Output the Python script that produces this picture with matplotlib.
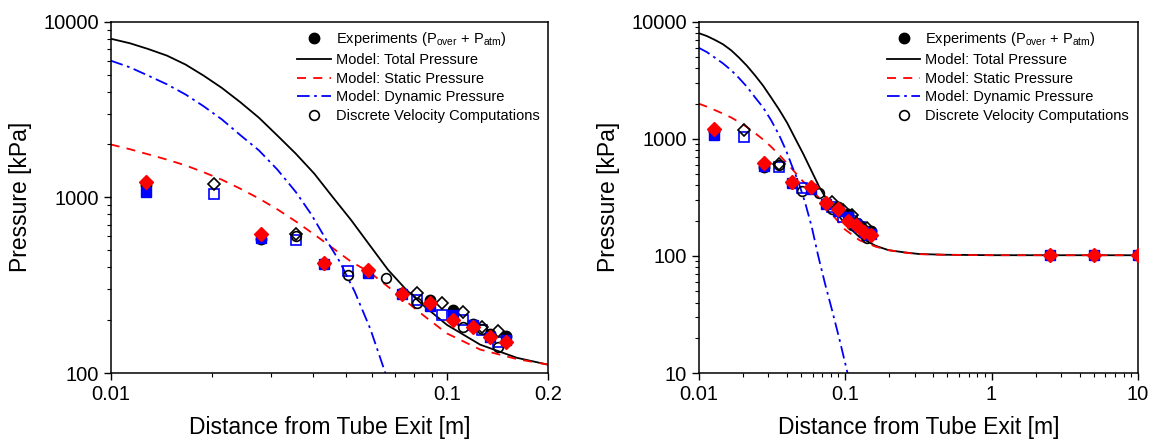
import numpy as np
import matplotlib
matplotlib.use("Agg")
import matplotlib.pyplot as plt
from matplotlib.ticker import LogLocator, NullFormatter, FuncFormatter

plt.rcParams['font.family'] = ['Liberation Sans', 'DejaVu Sans']

# ---- model curves ----
total_x = [0.01, 0.0114, 0.0129, 0.0147, 0.0167, 0.0189, 0.0214, 0.0243, 0.0276, 0.0313,
           0.0355, 0.0403, 0.0457, 0.0519, 0.0589, 0.0668, 0.0758, 0.0859, 0.1, 0.1256,
           0.1616, 0.198, 0.25, 0.32, 0.48, 1.0, 10.0]
total_y = [8000, 7540, 7000, 6410, 5700, 4930, 4200, 3480, 2840, 2250,
           1775, 1366, 1006, 742, 535, 387, 297, 239, 188, 145,
           122, 112, 107.5, 103.8, 102.3, 101.4, 101.3]

static_x = [0.01, 0.0114, 0.0129, 0.0147, 0.0167, 0.0189, 0.0214, 0.0243, 0.0276, 0.0313,
            0.0355, 0.0403, 0.0457, 0.0519, 0.0589, 0.0668, 0.0758, 0.0859, 0.1, 0.1256,
            0.1616, 0.198, 0.25, 0.32, 0.48, 1.0, 10.0]
static_y = [2000, 1880, 1760, 1640, 1520, 1390, 1260, 1120, 985, 855,
            730, 615, 515, 430, 375, 310, 255, 210, 168, 136,
            120, 112, 107, 103.5, 102.2, 101.4, 101.3]

dynamic_x = [0.01, 0.0114, 0.0129, 0.0147, 0.0167, 0.0189, 0.0214, 0.0243, 0.0276, 0.0313,
             0.0355, 0.0395, 0.0435, 0.048, 0.0532, 0.0592, 0.0656, 0.073, 0.0815, 0.092, 0.104]
dynamic_y = [6000, 5500, 4940, 4400, 3850, 3300, 2780, 2260, 1850, 1440,
             1075, 800, 584, 430, 290, 178, 100, 58, 34.5, 19, 10]

# ---- experiments (three runs) ----
exp_x = [0.0127, 0.0279, 0.0432, 0.0584, 0.0737, 0.0889, 0.1041, 0.1194, 0.1346, 0.1499, 2.5, 5.0, 10.0]
exp_black = [1170, 577, 416, 380, 284, 262, 228, 190, 167, 162, 101.3, 101.3, 101.3]
exp_blue = [1075, 590, 420, 372, 280, 240, 214, 187, 160, 155, 101.3, 101.3, 101.3]
exp_red = [1222, 617, 424, 385, 281, 251, 200, 182, 161, 151, 101.3, 101.3, 101.3]

# ---- discrete velocity computations ----
comp_circle_x = [0.0356, 0.0508, 0.066, 0.0813, 0.1118, 0.127, 0.1422]
comp_circle_y = [600, 361, 347, 251, 182, 178, 141]
comp_diamond_x = [0.0203, 0.0356, 0.0813, 0.0965, 0.1118, 0.127, 0.1422]
comp_diamond_y = [1197, 615, 286, 249, 223, 182, 174]
comp_square_x = [0.0203, 0.0356, 0.0508, 0.0813, 0.0965, 0.1118, 0.127, 0.1422]
comp_square_y = [1040, 570, 380, 262, 214, 200, 175, 151]


def plain(v, pos):
    return "%g" % v


def draw_panel(ax, xlim, ylim):
    ax.plot(total_x, total_y, color="black", lw=1.3, label="Model: Total Pressure", zorder=2)
    ax.plot(static_x, static_y, color="#ff0000", lw=1.3, dashes=(5, 4),
            label="Model: Static Pressure", zorder=2)
    ax.plot(dynamic_x, dynamic_y, color="#0000ff", lw=1.3, dashes=(7, 2.5, 1.5, 2.5),
            label="Model: Dynamic Pressure", zorder=2)

    ax.plot(comp_square_x, comp_square_y, ls="none", marker="s", ms=6.5, mfc="none",
            mec="#0000ff", mew=1.2, zorder=3)
    ax.plot(comp_circle_x, comp_circle_y, ls="none", marker="o", ms=7, mfc="none",
            mec="black", mew=1.2, zorder=3, label="Discrete Velocity Computations")
    ax.plot(comp_diamond_x, comp_diamond_y, ls="none", marker="D", ms=6.5, mfc="none",
            mec="black", mew=1.2, zorder=3)

    ax.plot(exp_x, exp_black, ls="none", marker="o", ms=7.5, color="black", zorder=4,
            label="Experiments (P$_{\\mathregular{over}}$ + P$_{\\mathregular{atm}}$)")
    ax.plot(exp_x, exp_blue, ls="none", marker="s", ms=7, color="#0000ff", zorder=4)
    ax.plot(exp_x, exp_red, ls="none", marker="D", ms=7, color="#ff0000", zorder=5)

    ax.set_xscale("log")
    ax.set_yscale("log")
    ax.set_xlim(*xlim)
    ax.set_ylim(*ylim)

    ax.xaxis.set_major_formatter(FuncFormatter(plain))
    ax.yaxis.set_major_formatter(FuncFormatter(plain))
    ax.xaxis.set_minor_locator(LogLocator(base=10, subs=np.arange(2, 10) * 1.0, numticks=20))
    ax.yaxis.set_minor_locator(LogLocator(base=10, subs=np.arange(2, 10) * 1.0, numticks=20))
    ax.xaxis.set_minor_formatter(NullFormatter())
    ax.yaxis.set_minor_formatter(NullFormatter())
    ax.tick_params(which="major", direction="out", length=5, width=1.0, labelsize=14.5)
    ax.tick_params(which="minor", direction="out", length=3, width=0.8)
    for s in ax.spines.values():
        s.set_linewidth(1.1)

    ax.set_xlabel("Distance from Tube Exit [m]", fontsize=16.5, labelpad=9)
    ax.set_ylabel("Pressure [kPa]", fontsize=16.5, labelpad=8)

    handles, labels = ax.get_legend_handles_labels()
    # experiments first, then the three model lines, then the computations
    order = [4, 0, 1, 2, 3]
    ax.legend([handles[i] for i in order], [labels[i] for i in order],
              loc="upper right", frameon=False, fontsize=10.5, handlelength=2.3,
              handletextpad=0.35, labelspacing=0.32, borderaxespad=0.2)


fig = plt.figure(figsize=(11.51, 4.42), dpi=100)
left_plot = fig.add_axes([0.0962, 0.1561, 0.380, 0.7948])
right_plot = fig.add_axes([0.6069, 0.1561, 0.3818, 0.7948])

draw_panel(left_plot, (0.01, 0.2), (100, 10000))
left_plot.set_xticks([0.01, 0.1, 0.2])
draw_panel(right_plot, (0.01, 10), (10, 10000))

fig.savefig("out.png", dpi=100)
